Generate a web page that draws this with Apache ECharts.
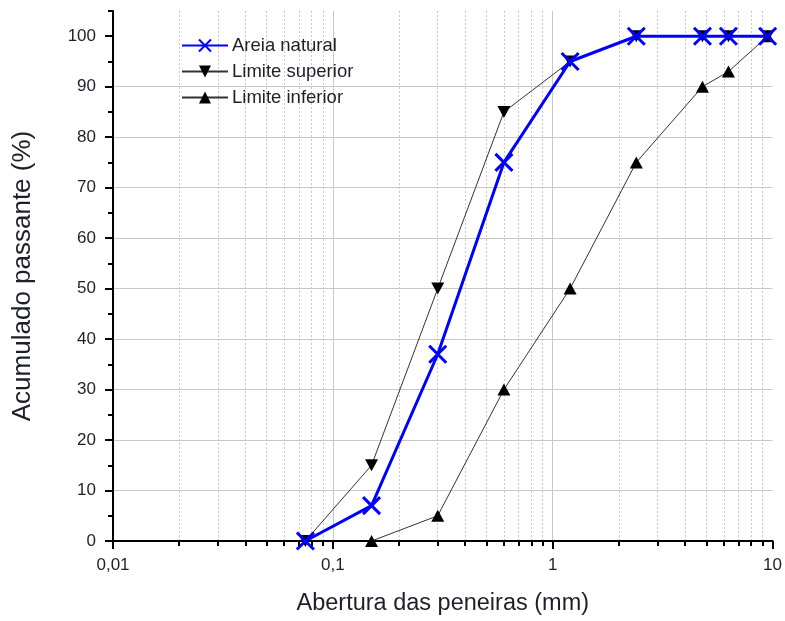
<!DOCTYPE html>
<html>
<head>
<meta charset="utf-8">
<script src="https://cdn.jsdelivr.net/npm/echarts@6/dist/echarts.min.js"></script>
<style>
  html, body { margin: 0; padding: 0; background: #fff; }
  #chart { width: 785px; height: 621px; }
</style>
</head>
<body>
<div id="chart"></div>
<script>
// Sieve openings (mm) and cumulative passing (%)
const aberturas = [0.075, 0.15, 0.3, 0.6, 1.2, 2.4, 4.8, 6.3, 9.5];
const areiaNatural = [0, 7, 37, 75, 95, 100, 100, 100, 100];
const limiteSuperior = [0, 15, 50, 85, 95, 100, 100, 100, 100];
const aberturasInferior = [0.15, 0.3, 0.6, 1.2, 2.4, 4.8, 6.3, 9.5];
const limiteInferior = [0, 5, 30, 50, 75, 90, 93, 100];

// Axis ticks
const xMajorTicks = [0.01, 0.1, 1, 10];
const xMajorLabels = ['0,01', '0,1', '1', '10'];
const xMinorTicks = [0.02, 0.03, 0.04, 0.05, 0.06, 0.07, 0.08, 0.09,
                     0.2, 0.3, 0.4, 0.5, 0.6, 0.7, 0.8, 0.9,
                     2, 3, 4, 5, 6, 7, 8, 9];
const yMajorTicks = [0, 10, 20, 30, 40, 50, 60, 70, 80, 90, 100];
const yMinorTicks = [5, 15, 25, 35, 45, 55, 65, 75, 85, 95, 105];

const pairs = (xs, ys) => xs.map((x, i) => [x, ys[i]]);
const FONT = 'Liberation Sans, Arial, Helvetica, sans-serif';
const TEXT = '#1f1f2a';
const crossSymbol = 'path://M0,0 L10,10 M10,0 L0,10';

const chart = echarts.init(document.getElementById('chart'));
chart.setOption({
  animation: false,
  textStyle: { fontFamily: FONT },
  grid: { left: 113, right: 12, top: 11, bottom: 78, containLabel: false },
  legend: {
    left: 176, top: 31, orient: 'vertical', itemGap: 7,
    itemWidth: 46, itemHeight: 15,
    textStyle: { fontSize: 18.5, lineHeight: 19, color: TEXT, fontFamily: FONT, padding: [0, 0, 0, -1] },
    data: ['Areia natural', 'Limite superior', 'Limite inferior']
  },
  xAxis: [
    {
      type: 'log', logBase: 10, min: 0.01, max: 10,
      name: 'Abertura das peneiras (mm)', nameLocation: 'middle', nameGap: 51,
      nameTextStyle: { fontSize: 23.5, color: TEXT, fontFamily: FONT },
      axisLine: { lineStyle: { color: '#000', width: 2 } },
      axisTick: { show: true, length: 8, lineStyle: { color: '#000', width: 2 } },
      axisLabel: {
        fontSize: 17, color: TEXT, margin: 16, fontFamily: FONT,
        formatter: v => {
          let best = 0;
          xMajorTicks.forEach((t, i) => {
            if (Math.abs(Math.log10(t) - Math.log10(v)) < Math.abs(Math.log10(xMajorTicks[best]) - Math.log10(v))) best = i;
          });
          return xMajorLabels[best];
        }
      },
      splitLine: { show: true, showMinLine: false, showMaxLine: false, lineStyle: { color: '#c8c8c8', width: 1 } }
    },
    {
      type: 'log', logBase: 10, min: 0.01, max: 10, position: 'bottom',
      axisLine: { show: false },
      axisLabel: { show: false },
      axisTick: { show: true, length: 5, customValues: xMinorTicks, lineStyle: { color: '#000', width: 2 } },
      splitLine: { show: true, lineStyle: { color: '#c8c8c8', width: 1, type: [2, 2] } }
    }
  ],
  yAxis: [
    {
      type: 'value', min: 0, max: 105, interval: 10,
      name: 'Acumulado passante (%)', nameLocation: 'middle', nameGap: 77,
      nameTextStyle: { fontSize: 26, color: TEXT, fontFamily: FONT },
      axisLine: { show: true, lineStyle: { color: '#000', width: 2 } },
      axisTick: { show: true, length: 8, customValues: yMajorTicks, lineStyle: { color: '#000', width: 2 } },
      axisLabel: { fontSize: 17, color: TEXT, margin: 17, fontFamily: FONT, customValues: yMajorTicks },
      splitLine: { show: true, showMinLine: false, showMaxLine: false, lineStyle: { color: '#c8c8c8', width: 1 } }
    },
    {
      type: 'value', min: 0, max: 105, position: 'left',
      axisLine: { show: false },
      axisLabel: { show: false },
      axisTick: { show: true, length: 5, customValues: yMinorTicks, lineStyle: { color: '#000', width: 2 } },
      splitLine: { show: false }
    }
  ],
  series: [
    {
      name: 'Limite inferior', type: 'line', data: pairs(aberturasInferior, limiteInferior),
      symbol: 'triangle', symbolSize: [13, 12],
      lineStyle: { color: '#333', width: 1 },
      itemStyle: { color: '#000' }, z: 3
    },
    {
      name: 'Limite superior', type: 'line', data: pairs(aberturas, limiteSuperior),
      symbol: 'triangle', symbolRotate: 180, symbolSize: [13, 12],
      lineStyle: { color: '#333', width: 1 },
      itemStyle: { color: '#000' }, z: 3
    },
    {
      name: 'Areia natural', type: 'line', data: pairs(aberturas, areiaNatural),
      symbol: crossSymbol, symbolSize: 17,
      lineStyle: { color: '#0000ff', width: 3 },
      itemStyle: { color: 'rgba(0,0,0,0)', borderColor: '#0000ff', borderWidth: 3 }, z: 4
    }
  ]
});
</script>
</body>
</html>
